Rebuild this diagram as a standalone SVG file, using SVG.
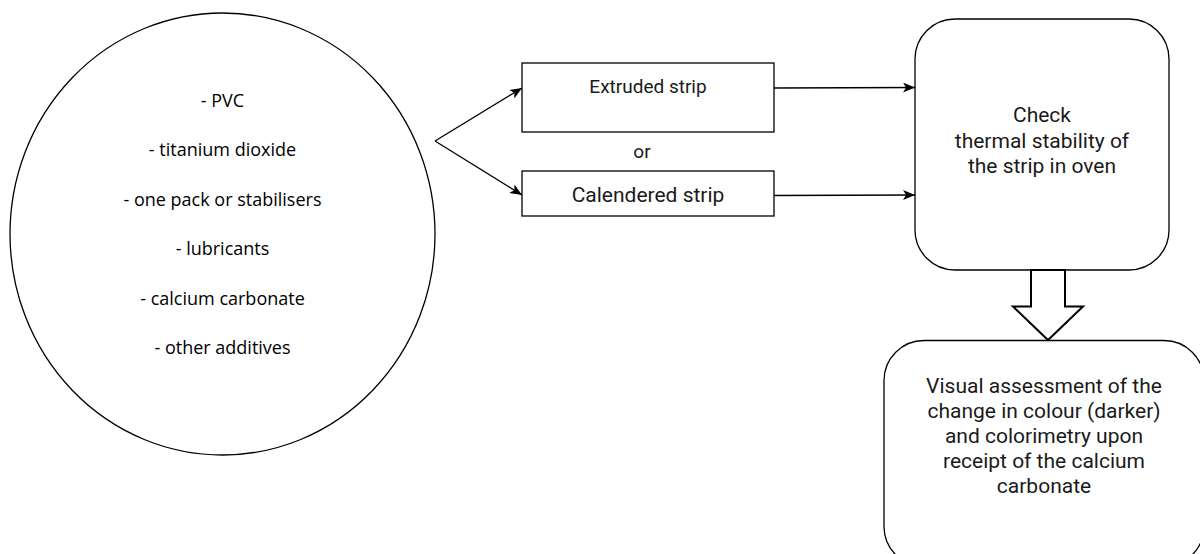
<svg xmlns="http://www.w3.org/2000/svg" width="1200" height="554" viewBox="0 0 1200 554">
<style>
.shape{fill:#fff;stroke:#000;stroke-width:1.3}
.ing{font-family:"Open Sans","Noto Sans",sans-serif;font-size:18px;fill:#000;text-anchor:middle}
.lbl{font-family:Roboto,"Liberation Sans",sans-serif;font-size:21px;fill:#1a1a1a;text-anchor:middle}
.edge{fill:none;stroke:#000;stroke-width:1.3}
</style>
<defs>
<marker id="arr" markerUnits="userSpaceOnUse" viewBox="0 0 12 10" refX="12" refY="5" markerWidth="12" markerHeight="10" orient="auto">
<path d="M0,0 L12,5 L0,10 L3,5 Z" fill="#000"/>
</marker>
</defs>
<rect width="1200" height="554" fill="#fff"/>
<g id="ingredients">
<ellipse class="shape" cx="222.5" cy="234" rx="212.5" ry="221"/>
<text class="ing" x="222.5" y="106.5">- PVC</text>
<text class="ing" x="222.5" y="156">- titanium dioxide</text>
<text class="ing" x="222.5" y="205.5">- one pack or stabilisers</text>
<text class="ing" x="222.5" y="255">- lubricants</text>
<text class="ing" x="222.5" y="304.5">- calcium carbonate</text>
<text class="ing" x="222.5" y="354">- other additives</text>
</g>
<g id="extruded">
<rect class="shape" x="522" y="63" width="252" height="69"/>
<text class="lbl" x="648" y="93" style="font-size:19px">Extruded strip</text>
</g>
<g id="or-label">
<text class="lbl" x="642" y="158" style="font-size:19px">or</text>
</g>
<g id="calendered">
<rect class="shape" x="522" y="171" width="252" height="45"/>
<text class="lbl" x="648" y="201.5">Calendered strip</text>
</g>
<g id="check">
<rect class="shape" x="915" y="19" width="254" height="251" rx="40" ry="40"/>
<text class="lbl" x="1042" y="121.5">Check</text>
<text class="lbl" x="1042" y="147.5">thermal stability of</text>
<text class="lbl" x="1042" y="173">the strip in oven</text>
</g>
<g id="assessment">
<rect class="shape" x="884" y="340.5" width="320" height="226" rx="40" ry="40"/>
<text class="lbl" x="1044" y="393">Visual assessment of the</text>
<text class="lbl" x="1044" y="418">change in colour (darker)</text>
<text class="lbl" x="1044" y="443">and colorimetry upon</text>
<text class="lbl" x="1044" y="468">receipt of the calcium</text>
<text class="lbl" x="1044" y="493">carbonate</text>
</g>
<g id="connectors">
<line class="edge" x1="435" y1="141" x2="522" y2="88" marker-end="url(#arr)"/>
<line class="edge" x1="435" y1="141" x2="522" y2="195" marker-end="url(#arr)"/>
<line class="edge" x1="774" y1="88" x2="915" y2="87.5" marker-end="url(#arr)"/>
<line class="edge" x1="774" y1="195.5" x2="915" y2="195" marker-end="url(#arr)"/>
<polygon points="1031,270 1065,270 1065,306.5 1083,306.5 1048,340 1013,306.5 1031,306.5" fill="#fff" stroke="#000" stroke-width="2"/>
</g>
</svg>
